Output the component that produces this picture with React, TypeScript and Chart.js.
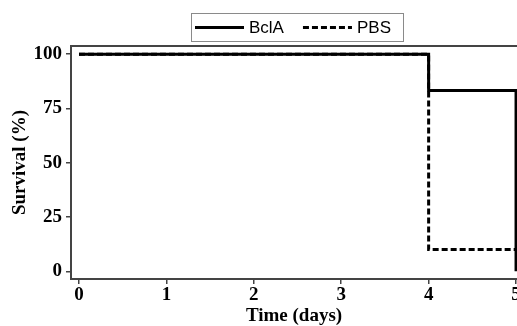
import React, { useEffect, useRef } from "react";
import { Chart, registerables } from "chart.js";

Chart.register(...registerables);

const times = [0, 4, 5];
const bclaSurvival = [100, 83.3, 0];
const pbsSurvival = [100, 10, 10];
const xTicks = [0, 1, 2, 3, 4, 5];
const yTicks = [0, 25, 50, 75, 100];
const seriesLabels = ["BclA", "PBS"];

const AXIS_COLOR = "#444444";

const framePlugin = {
  id: "frame",
  afterDraw(chart: any) {
    const { ctx, chartArea } = chart;
    ctx.save();
    ctx.strokeStyle = AXIS_COLOR;
    ctx.lineWidth = 2;
    ctx.beginPath();
    ctx.moveTo(chartArea.left, chartArea.top);
    ctx.lineTo(chartArea.right, chartArea.top);
    ctx.stroke();
    ctx.restore();
  },
};

const legendPlugin = {
  id: "boxLegend",
  afterDraw(chart: any) {
    const { ctx } = chart;
    const boxL = 191.5, boxT = 13.5, boxW = 212, boxH = 28;
    const cy = 27.5;
    ctx.save();
    ctx.strokeStyle = "#8a8a8a";
    ctx.lineWidth = 1;
    ctx.strokeRect(boxL, boxT, boxW, boxH);
    ctx.font = "17px 'Liberation Sans', Arial, sans-serif";
    ctx.textBaseline = "middle";
    ctx.textAlign = "left";
    let x = 195;
    chart.data.datasets.forEach((ds: any) => {
      ctx.strokeStyle = ds.borderColor;
      ctx.lineWidth = ds.borderWidth;
      ctx.setLineDash(ds.borderDash && ds.borderDash.length ? [6, 3] : []);
      ctx.beginPath();
      ctx.moveTo(x, cy);
      ctx.lineTo(x + 49, cy);
      ctx.stroke();
      ctx.setLineDash([]);
      ctx.fillStyle = "#000000";
      ctx.fillText(ds.label, x + 54, cy + 0.5);
      x = x + 54 + ctx.measureText(ds.label).width + 19;
    });
    ctx.restore();
  },
};

export default function App() {
  const ref = useRef<HTMLCanvasElement>(null);
  useEffect(() => {
    if (!ref.current) return;
    const tickFont = { family: "'Liberation Serif', 'Times New Roman', serif", size: 19, weight: "bold" as const };
    const chart = new Chart(ref.current, {
      type: "line",
      data: {
        datasets: [
          {
            label: seriesLabels[0],
            data: times.map((t, i) => ({ x: t, y: bclaSurvival[i] })),
            borderColor: "#000000",
            borderWidth: 3,
            stepped: true,
            pointRadius: 0,
            fill: false,
            order: 0,
          },
          {
            label: seriesLabels[1],
            data: times.map((t, i) => ({ x: t, y: pbsSurvival[i] })),
            borderColor: "#000000",
            borderWidth: 3,
            borderDash: [6, 3],
            stepped: true,
            pointRadius: 0,
            fill: false,
            order: 1,
          },
        ],
      },
      options: {
        responsive: false,
        animation: false,
        layout: { padding: { top: 46, left: 0, right: 0, bottom: 0 } },
        plugins: { legend: { display: false }, tooltip: { enabled: false } },
        scales: {
          x: {
            type: "linear",
            min: -0.0915,
            max: 5.011,
            afterBuildTicks: (scale: any) => {
              scale.ticks = xTicks.map((v) => ({ value: v }));
            },
            afterFit: (scale: any) => {
              scale.height = 47;
              scale.paddingLeft = 0;
              scale.paddingRight = 0;
            },
            grid: { display: true, drawOnChartArea: false, drawTicks: true, tickLength: 5, color: AXIS_COLOR, lineWidth: 1.5 },
            border: { display: true, color: AXIS_COLOR, width: 2 },
            ticks: { color: "#000000", font: tickFont, padding: 0, maxRotation: 0 },
            title: {
              display: true,
              text: "Time (days)",
              color: "#000000",
              font: { ...tickFont, lineHeight: 1 },
              padding: { top: 0, bottom: 0 },
            },
          },
          y: {
            type: "linear",
            min: -3.55,
            max: 103.8,
            afterBuildTicks: (scale: any) => {
              scale.ticks = yTicks.map((v) => ({ value: v }));
            },
            afterFit: (scale: any) => {
              scale.width = 71;
              scale.paddingTop = 0;
              scale.paddingBottom = 0;
            },
            grid: { display: true, drawOnChartArea: false, drawTicks: true, tickLength: 5, color: AXIS_COLOR, lineWidth: 1.5 },
            border: { display: true, color: AXIS_COLOR, width: 2 },
            ticks: { color: "#000000", font: tickFont, padding: 4 },
            title: {
              display: true,
              text: "Survival (%)",
              color: "#000000",
              font: { ...tickFont, lineHeight: 1 },
              padding: { top: 11, bottom: 0 },
            },
          },
        },
      },
      plugins: [framePlugin, legendPlugin],
    });
    return () => chart.destroy();
  }, []);
  return (
    <div style={{ position: "absolute", left: 0, top: 0, width: 517, height: 326, background: "#ffffff" }}>
      <canvas ref={ref} width={517} height={326} />
    </div>
  );
}
